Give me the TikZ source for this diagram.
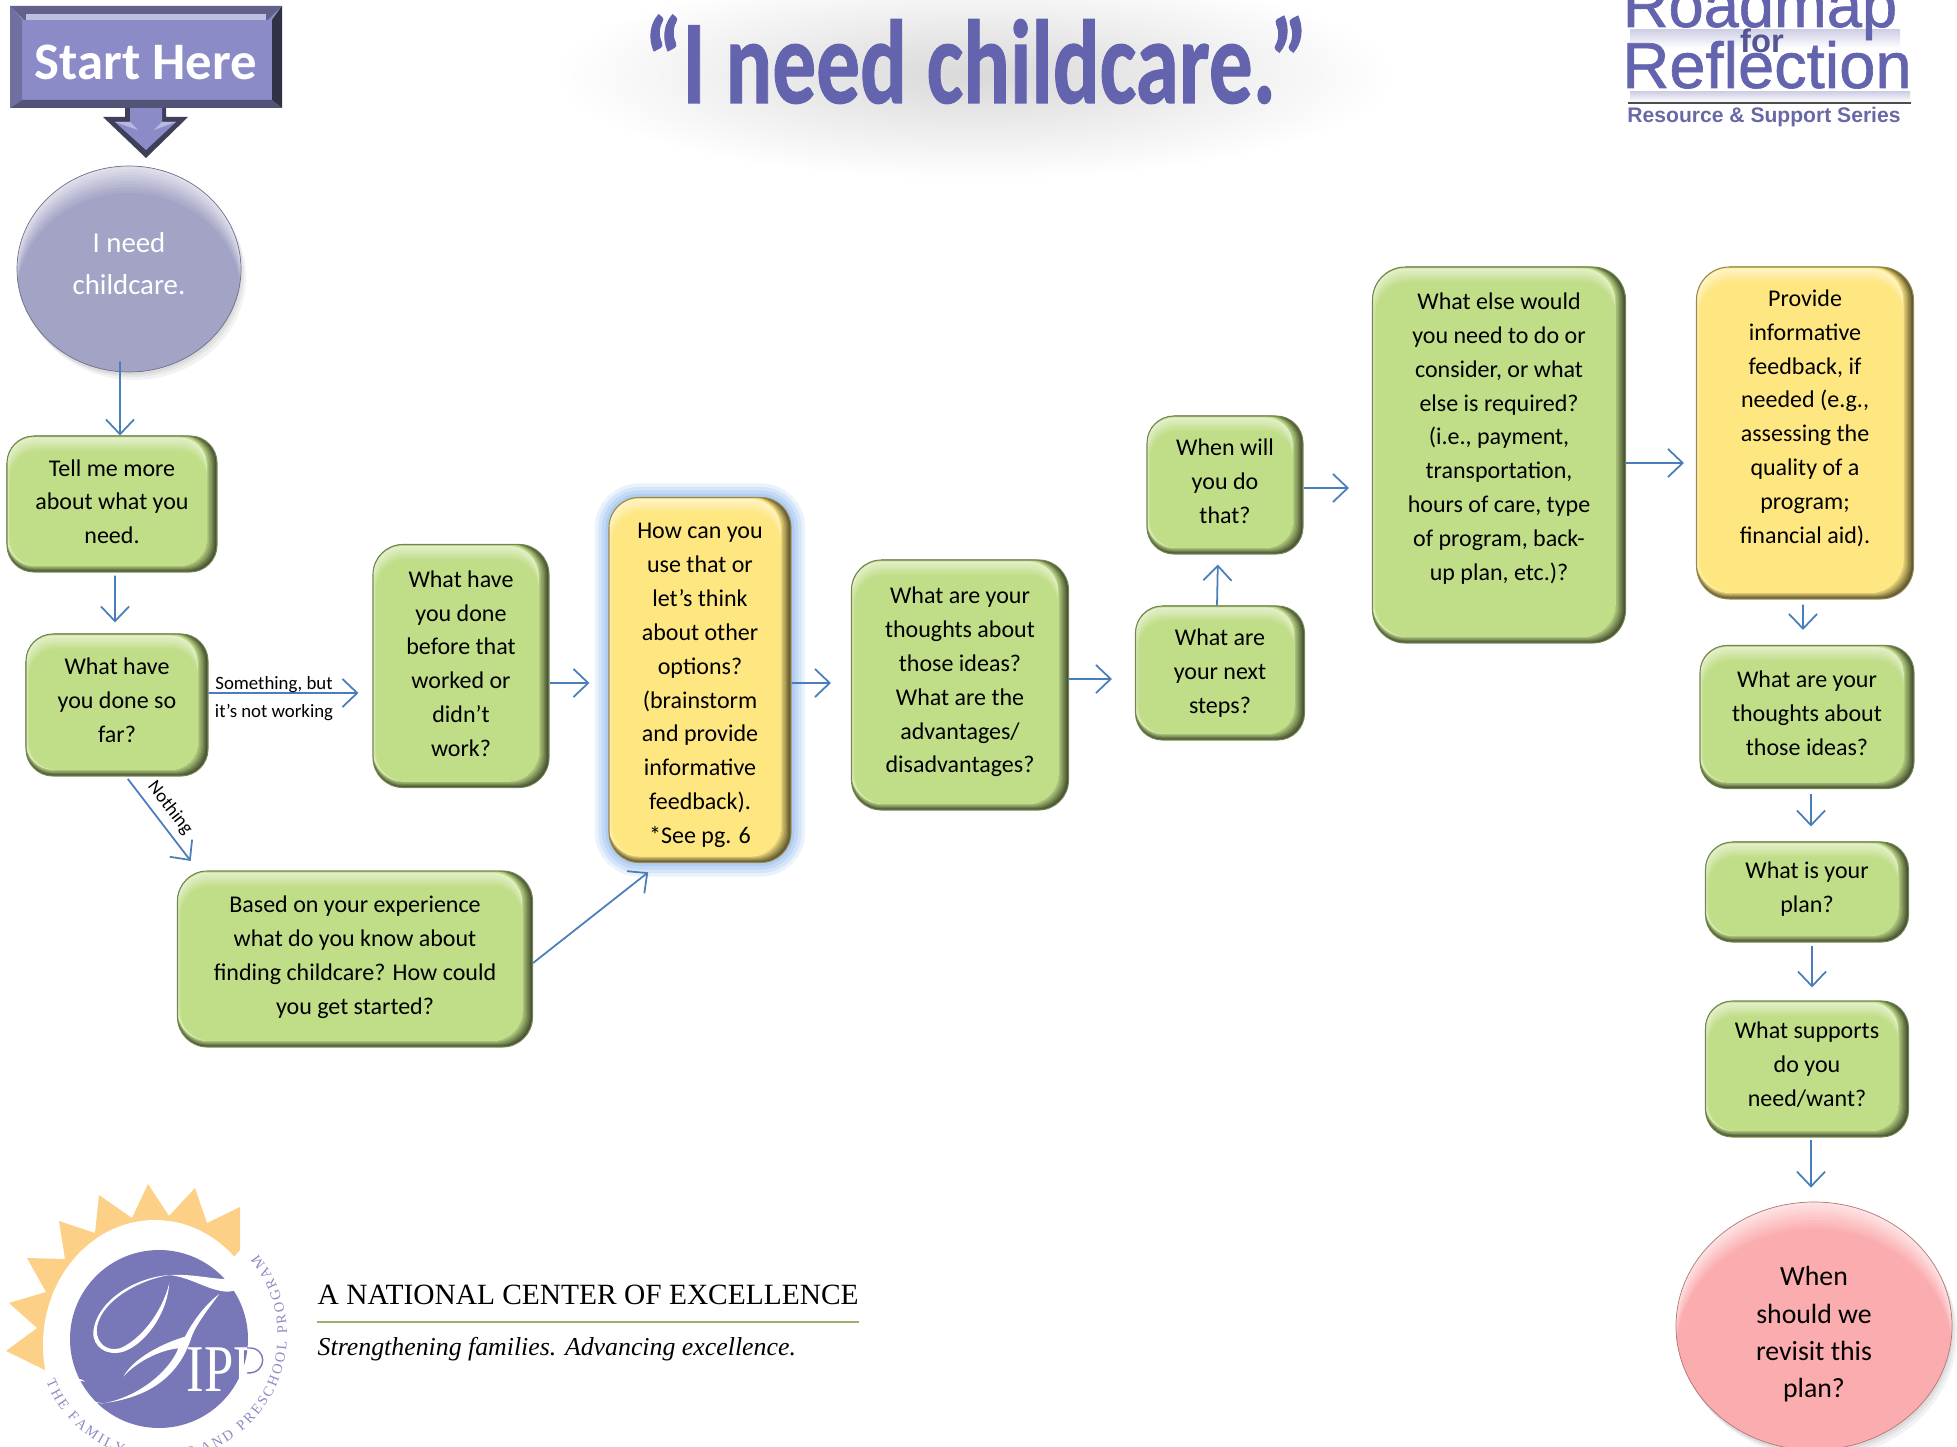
\documentclass[tikz,border=0pt]{standalone}
\usepackage{fontspec}
\usepackage{graphicx}
\setmainfont{Carlito}
\newfontfamily\logofont{Liberation Sans}
\newfontfamily\serifont{Liberation Serif}
\usetikzlibrary{arrows.meta,shapes.geometric,decorations.text}
\definecolor{boxgreen}{RGB}{192,221,135}
\definecolor{boxyellow}{RGB}{254,230,128}
\definecolor{glowblue}{RGB}{150,190,240}
\definecolor{flowblue}{RGB}{74,126,187}
\definecolor{titleblue}{RGB}{100,100,174}
\definecolor{startblue}{RGB}{139,139,200}
\definecolor{circleblue}{RGB}{163,163,198}
\definecolor{circlepink}{RGB}{251,172,174}
\definecolor{sunyellow}{RGB}{253,208,135}
\definecolor{logoblue}{RGB}{120,120,184}
\newcommand{\boxfont}{\fontsize{6.83}{9.62}\selectfont}
\newcommand{\lift}[1]{\rule[-#1]{0pt}{0pt}}
\tikzset{
  bevelbox/.style={draw=#1!60!black,line width=.3pt,fill=#1,rounded corners=.27cm,align=center,font=\boxfont,inner sep=0pt,
    path picture={
      \fill[sharp corners,#1!35!black] (path picture bounding box.north west) rectangle (path picture bounding box.south east);
      \foreach \k in {1,...,8} {
        \pgfmathsetmacro\mix{35+\k*65/8}
        \fill[#1!\mix!black] (path picture bounding box.north west) rectangle ([xshift=-\k*.013cm,yshift=\k*.008cm]path picture bounding box.south east);
      }
      \foreach \k in {0,...,8} {
        \pgfmathsetmacro\mix{45+\k*55/8}
        \fill[#1!\mix!white] ([xshift=\k*.004cm,yshift=-.015cm-\k*.017cm]path picture bounding box.north west) rectangle ([xshift=-.104cm,yshift=.064cm]path picture bounding box.south east);
      }
    }},
  rimcircle/.style n args={3}{ellipse,draw=#1!70!black,line width=.2pt,fill=#1,inner sep=0pt,align=center,minimum width=2*#2 cm,minimum height=2*#3 cm,
    path picture={
      \foreach \k in {0,...,9} {
        \pgfmathsetmacro\mix{35+\k*65/9}
        \fill[#1!\mix!white] ([yshift=-\k*.03cm]path picture bounding box.center) ellipse (#2 and #3);
      }
    }},
  glowbox/.style={preaction={draw=glowblue,line width=8pt,opacity=.2},preaction={draw=glowblue,line width=6pt,opacity=.25},preaction={draw=glowblue,line width=4pt,opacity=.3},preaction={draw=glowblue,line width=2pt,opacity=.4}},
  softshadow/.style={preaction={fill=black,opacity=.05,transform canvas={shift={(.03,-.05)}}},preaction={fill=black,opacity=.05,transform canvas={shift={(.05,-.08)}}},preaction={fill=black,opacity=.05,transform canvas={shift={(.01,-.03)}}}},
  flowline/.style={draw=flowblue,line width=.5pt,-{Straight Barb[length=4.2pt,width=8pt]}},
  smalllabel/.style={font=\fontsize{5.35}{6}\selectfont,inner sep=0pt},
}
\begin{document}
\begin{tikzpicture}
        \useasboundingbox (0,0) rectangle (19.57,-14.47);
        % header
        \shade[inner color=black!15,outer color=white] (9.75,-0.75) ellipse (4.2 and 1.05);
        \node[anchor=base,text=titleblue,font=\fontsize{34}{36}\selectfont\bfseries\addfontfeature{FakeBold=1},inner sep=0pt] (titletext) at (9.76,-1.03) {\scalebox{.73}[1]{“I need childcare.”}};
        \fill[top color=logoblue!35,bottom color=white] (16.3,-0.3) rectangle (19.0,-0.48);
        \fill[top color=logoblue!35,bottom color=white] (16.3,-0.92) rectangle (19.1,-1.02);
        \node[anchor=base,text=titleblue,font=\logofont\fontsize{18}{18}\selectfont\addfontfeature{FakeBold=1},inner sep=0pt] (roadmaptext) at (17.6,-0.27) {Roadmap};
        \node[anchor=base,text=titleblue!85!black,font=\logofont\bfseries\fontsize{9.3}{10}\selectfont,inner sep=0pt] (fortext) at (17.62,-0.53) {for};
        \node[anchor=base,text=titleblue,font=\logofont\fontsize{18.5}{18}\selectfont\addfontfeature{FakeBold=1},inner sep=0pt] (reflectiontext) at (17.67,-0.88) {Reflection};
        \draw[black!70,line width=.6pt] (16.28,-1.03) -- (19.11,-1.03);
        \node[anchor=base,text=titleblue!85!gray,font=\logofont\bfseries\fontsize{6}{6}\selectfont,inner sep=0pt] (seriestext) at (17.64,-1.23) {Resource \& Support Series};
        % start
        \fill[color=startblue!45!black] (1.25,-1.0) -- (1.66,-1.0) -- (1.66,-1.17) -- (1.88,-1.17) -- (1.46,-1.58) -- (1.03,-1.17) -- (1.25,-1.17) -- cycle;
        \fill[color=startblue] (1.3,-1.0) -- (1.62,-1.0) -- (1.62,-1.22) -- (1.76,-1.22) -- (1.46,-1.5) -- (1.15,-1.22) -- (1.3,-1.22) -- cycle;
        \fill[color=startblue!60!white] (1.3,-1.22) -- (1.15,-1.22) -- (1.38,-1.3) -- cycle;
        \fill[color=startblue!60!white] (1.62,-1.22) -- (1.76,-1.22) -- (1.54,-1.3) -- cycle;
        \node[fill=startblue,text=white,minimum width=2.72cm,minimum height=1.02cm,inner sep=0pt,text height=12.8pt,text depth=0pt,font=\fontsize{15}{16}\selectfont\bfseries,
          path picture={
            \fill[startblue!70!black] (path picture bounding box.north west) -- (path picture bounding box.north east) -- ++(-.14,-.14) -- ++(-2.44,0) -- cycle;
            \fill[startblue!55!white] ([xshift=.16cm,yshift=-.08cm]path picture bounding box.north west) rectangle ([xshift=-.16cm,yshift=-.14cm]path picture bounding box.north east);
            \fill[startblue!35!black] (path picture bounding box.north east) -- (path picture bounding box.south east) -- ++(-.1,.08) -- ++(0,.8) -- cycle;
            \fill[startblue!60!black] (path picture bounding box.south west) -- (path picture bounding box.south east) -- ++(-.1,.08) -- ++(-2.5,0) -- cycle;
            \fill[startblue!80!black] (path picture bounding box.north west) -- (path picture bounding box.south west) -- ++(.12,.08) -- ++(0,.8) -- cycle;
          }] (startbox) at (1.46,-0.57) {Start Here};
        \node[rimcircle={circleblue}{1.12}{1.03},text=white,softshadow,font=\fontsize{8.2}{11.7}\selectfont] (needcirc) at (1.29,-2.69) {I need\\childcare.\lift{.11cm}};
        % boxes
        \node[bevelbox=boxgreen,minimum width=2.10cm,minimum height=1.36cm] (tellbox) at (1.12,-5.04) {Tell me more\\about what you\\need.\lift{.05cm}};
        \node[bevelbox=boxgreen,minimum width=1.82cm,minimum height=1.42cm] (sofarbox) at (1.17,-7.05) {What have\\you done so\\far?\lift{.10cm}};
        \node[bevelbox=boxgreen,rounded corners=.3cm,minimum width=1.76cm,minimum height=2.43cm] (beforebox) at (4.61,-6.66) {What have\\you done\\before that\\worked or\\didn’t\\work?\lift{.05cm}};
        \node[bevelbox=boxyellow,rounded corners=.3cm,glowbox,minimum width=1.82cm,minimum height=3.65cm] (howbox) at (7.00,-6.80) {\rule{0pt}{7.5pt}How can you\\use that or\\let’s think\\about other\\options?\\(brainstorm\\and provide\\informative\\feedback).\\*See pg. 6};
        \node[bevelbox=boxgreen,rounded corners=.3cm,minimum width=3.55cm,minimum height=1.76cm] (basedbox) at (3.55,-9.59) {Based on your experience\\what do you know about\\finding childcare? How could\\you get started?\lift{.075cm}};
        \node[bevelbox=boxgreen,rounded corners=.3cm,minimum width=2.17cm,minimum height=2.50cm] (ideasbox) at (9.60,-6.85) {What are your\\thoughts about\\those ideas?\\What are the\\advantages/\\disadvantages?\lift{.10cm}};
        \node[bevelbox=boxgreen,minimum width=1.56cm,minimum height=1.38cm] (whenbox) at (12.25,-4.85) {When will\\you do\\that?\lift{.075cm}};
        \node[bevelbox=boxgreen,minimum width=1.69cm,minimum height=1.34cm] (nextbox) at (12.20,-6.73) {What are\\your next\\steps?};
        \node[bevelbox=boxgreen,rounded corners=.33cm,minimum width=2.53cm,minimum height=3.76cm] (elsebox) at (14.99,-4.55) {What else would\\you need to do or\\consider, or what\\else is required?\\(i.e., payment,\\transportation,\\hours of care, type\\of program, back-\\up plan, etc.)?\lift{.37cm}};
        \node[bevelbox=boxyellow,rounded corners=.33cm,minimum width=2.17cm,minimum height=3.32cm] (providebox) at (18.05,-4.33) {Provide\\informative\\feedback, if\\needed (e.g.,\\assessing the\\quality of a\\program;\\financial aid).\lift{.33cm}};
        \node[bevelbox=boxgreen,minimum width=2.14cm,minimum height=1.43cm] (opinionbox) at (18.07,-7.17) {What are your\\thoughts about\\those ideas?\lift{.075cm}};
        \node[bevelbox=boxgreen,minimum width=2.03cm,minimum height=1.00cm] (planbox) at (18.07,-8.92) {What is your\\plan?\lift{.10cm}};
        \node[bevelbox=boxgreen,minimum width=2.03cm,minimum height=1.36cm] (supportbox) at (18.07,-10.69) {What supports\\do you\\need/want?\lift{.10cm}};
        \node[rimcircle={circlepink}{1.38}{1.24},softshadow,font=\fontsize{7.9}{10.6}\selectfont] (revisitcirc) at (18.14,-13.26) {\rule{0pt}{10.3pt}When\\should we\\revisit this\\plan?};
        % connectors
        \draw[flowline,shorten <=-.11cm] ([xshift=-.09cm]needcirc.south) -- ([xshift=.08cm]tellbox.north);
        \draw[flowline,shorten <=.03cm,shorten >=.11cm] ([xshift=.03cm]tellbox.south) -- ([xshift=-.02cm]sofarbox.north);
        \draw[flowline,shorten >=.14cm] ([yshift=.12cm]sofarbox.east) -- ([yshift=-.27cm]beforebox.west);
        \draw[flowline,shorten <=.03cm,shorten >=.12cm] ([xshift=.09cm]sofarbox.south) -- ([xshift=-1.57cm]basedbox.north);
        \draw[flowline,shorten >=.19cm] ([yshift=-.17cm]beforebox.east) -- ([yshift=-.03cm]howbox.west);
        \draw[flowline,shorten >=.20cm] ([yshift=-.03cm]howbox.east) -- ([yshift=.02cm]ideasbox.west);
        \draw[flowline,shorten >=.15cm] ([yshift=-.04cm]basedbox.east) -- ([xshift=-.40cm]howbox.south);
        \draw[flowline,shorten >=.23cm] ([yshift=.06cm]ideasbox.east) -- ([yshift=-.06cm]nextbox.west);
        \draw[flowline,shorten >=.10cm] ([xshift=-.03cm]nextbox.north) -- ([xshift=-.07cm]whenbox.south);
        \draw[flowline,shorten >=.23cm] ([yshift=-.03cm]whenbox.east) -- ([yshift=-.33cm]elsebox.west);
        \draw[flowline,shorten >=.12cm] ([yshift=-.08cm]elsebox.east) -- ([yshift=-.30cm]providebox.west);
        \draw[flowline,shorten <=.05cm,shorten >=.15cm] ([xshift=-.02cm]providebox.south) -- ([xshift=-.04cm]opinionbox.north);
        \draw[flowline,shorten <=.05cm,shorten >=.15cm] ([xshift=.04cm]opinionbox.south) -- ([xshift=.04cm]planbox.north);
        \draw[flowline,shorten <=.03cm,shorten >=.13cm] ([xshift=.05cm]planbox.south) -- ([xshift=.05cm]supportbox.north);
        \draw[flowline,shorten <=.02cm,shorten >=.14cm] ([xshift=.04cm]supportbox.south) -- ([xshift=-.03cm]revisitcirc.north);
        \node[smalllabel] (somelabel) at (2.74,-6.85) {Something, but};
        \node[smalllabel] (worklabel) at (2.74,-7.12) {it’s not working};
        \node[smalllabel,rotate=-52] (nolabel) at (1.70,-8.08) {Nothing};
        % logo
        \fill[sunyellow] (2.40,-12.50) -- (2.40,-12.07) -- (2.07,-12.23) -- (1.95,-11.88) -- (1.69,-12.16) -- (1.48,-11.84) -- (1.32,-12.18) -- (0.99,-11.95) -- (0.95,-12.33) -- (0.59,-12.21) -- (0.65,-12.59) -- (0.27,-12.58) -- (0.46,-12.92) -- (0.09,-13.03) -- (0.37,-13.28) -- (0.06,-13.51) -- (0.45,-13.70) -- (1.55,-13.45) -- cycle;
        \fill[white] (1.55,-13.45) ellipse (1.12 and 1.25);
        \fill[logoblue] (1.59,-13.39) circle (.89);
        \fill[white] (1.70,-12.75) .. controls (2.033,-12.733) and (2.267,-12.85) .. (2.483,-12.75) .. controls (2.417,-12.867) and (2.367,-12.917) .. (2.267,-12.917) .. controls (2.067,-12.90) and (1.933,-12.783) .. (1.70,-12.75);
        \fill[white] (1.70,-12.75) .. controls (1.367,-12.767) and (.967,-13.0) .. (.933,-13.317) .. controls (.923,-13.467) and (1.067,-13.567) .. (1.233,-13.517) .. controls (1.433,-13.45) and (1.667,-13.167) .. (1.693,-12.833) .. controls (1.617,-13.133) and (1.40,-13.40) .. (1.20,-13.483) .. controls (1.067,-13.517) and (.967,-13.433) .. (.967,-13.30) .. controls (.983,-13.033) and (1.367,-12.80) .. (1.70,-12.75);
        \fill[white] (2.193,-12.94) .. controls (2.067,-13.033) and (1.933,-13.20) .. (1.85,-13.367) .. controls (1.733,-13.40) and (1.367,-13.533) .. (1.233,-13.767) .. controls (1.367,-13.617) and (1.60,-13.50) .. (1.783,-13.483) .. controls (1.70,-13.70) and (1.40,-13.967) .. (1.033,-14.033) .. controls (1.533,-13.967) and (1.80,-13.733) .. (1.917,-13.367) .. controls (1.967,-13.233) and (2.10,-13.067) .. (2.193,-12.94);
        \fill[white] (1.033,-14.033) .. controls (.80,-14.033) and (.667,-13.967) .. (.673,-13.867) .. controls (.70,-13.783) and (.80,-13.767) .. (.85,-13.817) .. controls (.80,-13.793) and (.733,-13.817) .. (.74,-13.883) .. controls (.767,-13.967) and (.90,-14.017) .. (1.033,-14.033);
        \node[anchor=base,text=white,font=\serifont\fontsize{19}{20}\selectfont,inner sep=0pt] (ipptext) at (2.25,-13.91) {\scalebox{.79}[1]{IPP}};
        \draw[logoblue,line width=.4pt] (2.47,-13.48) .. controls (2.68,-13.46) and (2.68,-13.74) .. (2.47,-13.73);
        \path[decorate,decoration={text along path,text align={fit to path},text color=logoblue!85!white,text={|\serifont\fontsize{4.1}{5}\selectfont|THE FAMILY INFANT AND PRESCHOOL PROGRAM}}] (0.461,-13.818) arc (202:400:1.25);
        \node[anchor=base west,inner sep=0pt,font=\serifont\fontsize{8.37}{10}\selectfont] (centertext) at (3.17,-13.04) {A NATIONAL CENTER OF EXCELLENCE};
        \draw[boxgreen!80!black,line width=.6pt] (centertext.south west |- 0,-13.22) -- (centertext.south east |- 0,-13.22);
        \node[anchor=base west,inner sep=0pt,font=\serifont\itshape\fontsize{7.35}{9}\selectfont] (slogantext) at (3.17,-13.55) {Strengthening families. Advancing excellence.};
\end{tikzpicture}
\end{document}
